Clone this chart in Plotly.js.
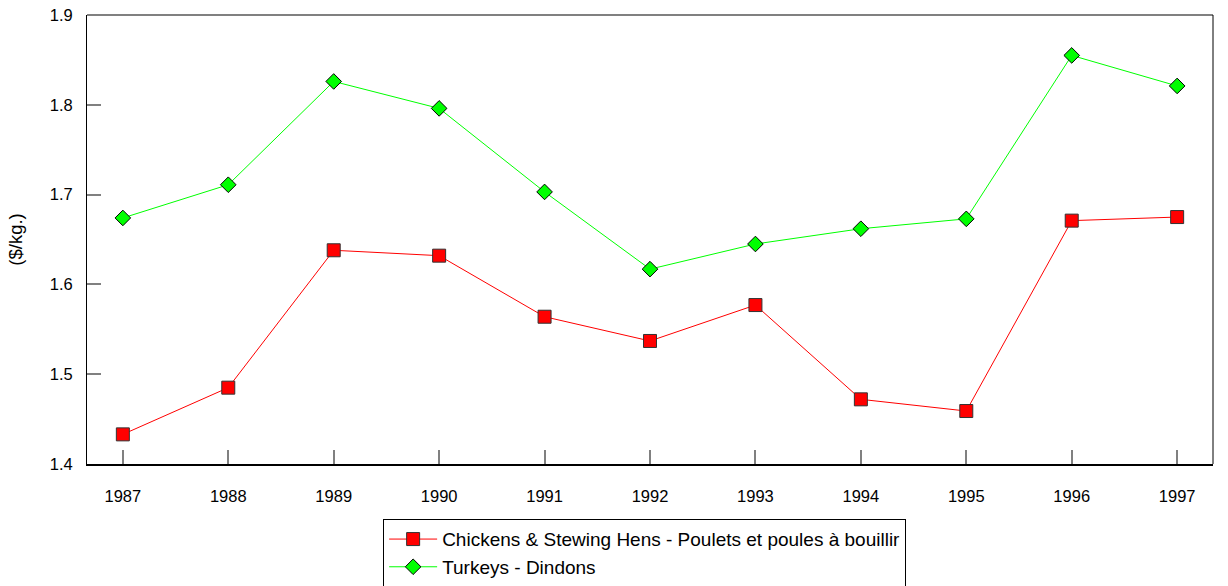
<!DOCTYPE html>
<html>
<head>
<meta charset="utf-8">
<script src="https://cdn.plot.ly/plotly-3.0.1.min.js"></script>
<style>html,body{margin:0;padding:0;background:#fff;}#chart{width:1228px;height:586px;}</style>
</head>
<body>
<div id="chart"></div>
<script>
const years = [1987, 1988, 1989, 1990, 1991, 1992, 1993, 1994, 1995, 1996, 1997];
const chickens = [1.433, 1.485, 1.638, 1.632, 1.564, 1.537, 1.577, 1.472, 1.459, 1.671, 1.675];
const turkeys = [1.674, 1.711, 1.826, 1.796, 1.703, 1.617, 1.645, 1.662, 1.673, 1.855, 1.821];
const seriesNames = ["Chickens & Stewing Hens - Poulets et poules à bouillir", "Turkeys - Dindons"];
const yTicks = [1.4, 1.5, 1.6, 1.7, 1.8, 1.9];

const traces = [
  {x: years, y: chickens, name: seriesNames[0], type: 'scatter', mode: 'lines+markers',
   line: {color: '#ff0000', width: 1},
   marker: {symbol: 'square', size: 13, color: '#ff0000', line: {color: '#333333', width: 1}}},
  {x: years, y: turkeys, name: seriesNames[1], type: 'scatter', mode: 'lines+markers',
   line: {color: '#00ff00', width: 1},
   marker: {symbol: 'diamond', size: 12, color: '#00ff00', line: {color: '#000000', width: 1}}}
];

const layout = {
  width: 1228, height: 586,
  margin: {l: 87, r: 15, t: 15, b: 122, autoexpand: false},
  paper_bgcolor: '#fff', plot_bgcolor: '#fff',
  font: {family: 'Liberation Sans, Arial, sans-serif', size: 16, color: '#000'},
  showlegend: true,
  xaxis: {
    range: [1986.66, 1997.34], tickvals: years, ticktext: years.map(String),
    showgrid: false, zeroline: false,
    showline: true, linecolor: '#000', linewidth: 2,
    ticks: 'inside', ticklen: 14, tickcolor: '#808080', tickwidth: 2,
    ticklabelstandoff: 16,
    tickfont: {size: 16.5}
  },
  yaxis: {
    range: [1.4, 1.9], tickvals: yTicks, ticktext: yTicks.map(v => v.toFixed(1)),
    showgrid: false, zeroline: false,
    showline: true, linecolor: '#000', linewidth: 1,
    ticks: 'inside', ticklen: 14, tickcolor: '#808080', tickwidth: 2,
    ticklabelstandoff: 10,
    tickfont: {size: 16.5},
    title: {text: '($/kg.)', font: {size: 18.5}, standoff: 22}
  },
  shapes: [
    {type: 'line', xref: 'paper', yref: 'paper', x0: 0, x1: 1, y0: 1, y1: 1, line: {color: '#808080', width: 2}},
    {type: 'line', xref: 'paper', yref: 'paper', x0: 1, x1: 1, y0: 0, y1: 1, line: {color: '#000', width: 1}}
  ],
  legend: {
    x: 0.263, y: -0.123, xanchor: 'left', yanchor: 'top',
    bordercolor: '#000', borderwidth: 1, bgcolor: '#fff',
    font: {size: 19}, tracegroupgap: 0, itemwidth: 48
  }
};

Plotly.newPlot('chart', traces, layout, {displayModeBar: false, staticPlot: true});
</script>
</body>
</html>
